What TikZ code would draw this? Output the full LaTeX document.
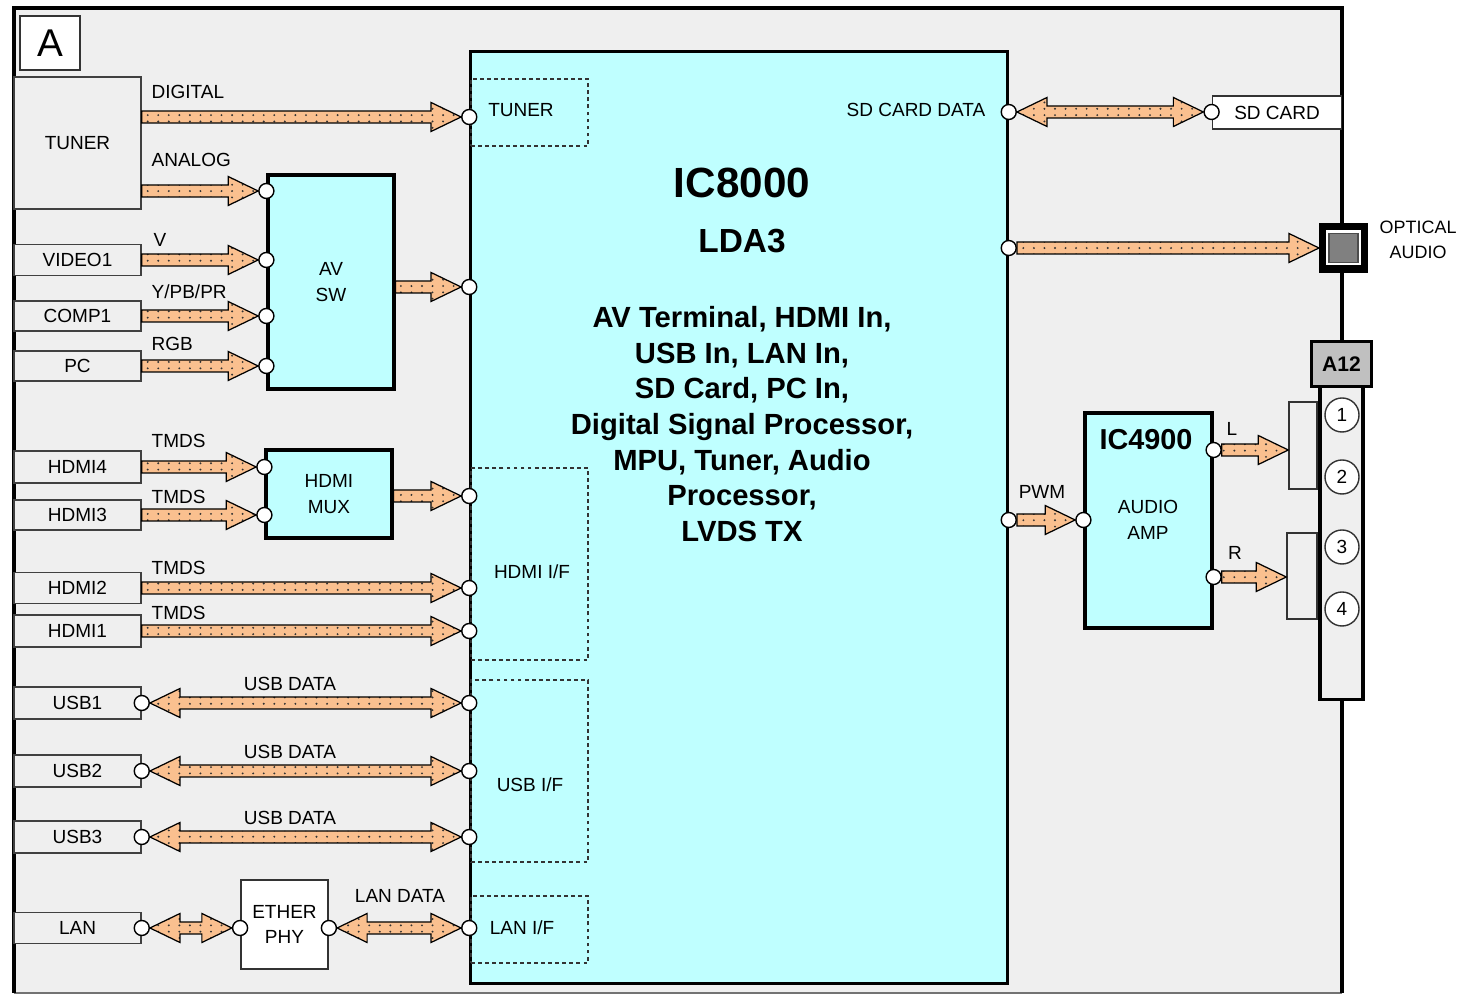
\documentclass[tikz,border=0pt]{standalone}
\usepackage{fontspec}
\setmainfont{Liberation Sans}
\usetikzlibrary{positioning, calc, patterns.meta}

\definecolor{bggray}{RGB}{239,239,239}
\definecolor{chipcyan}{RGB}{191,255,255}
\definecolor{peach}{RGB}{250,192,143}
\definecolor{jackgray}{RGB}{192,192,192}

% fat arrow sizes
\newcommand{\shaftw}{0.06cm}
\newcommand{\headw}{0.145cm}
\newcommand{\headl}{0.30cm}

\tikzdeclarepattern{
  name=arrdots,
  type=uncolored,
  bounding box={(-0.5pt,-0.5pt) and (0.5pt,0.5pt)},
  tile size={(3pt,1.8pt)},
  code={\fill (0pt,0pt) circle [radius=0.3pt];}
}

\begin{document}
\begin{tikzpicture}[
    x=0.01cm, y=-0.01cm,
    font=\fontsize{5.4}{7.3}\selectfont,
    inbox/.style={rectangle, draw=black!75, line width=0.4pt, fill=bggray,
                  minimum width=1.27cm, inner sep=0pt},
    chip/.style={rectangle, draw=black, line width=0.9pt, fill=chipcyan,
                 align=center, inner sep=0pt},
    plain/.style={rectangle, draw=black!80, line width=0.5pt, fill=white,
                  align=center, inner sep=0pt},
    ifbox/.style={rectangle, draw=black!80, line width=0.4pt,
                  dash pattern=on 1.1pt off 0.9pt, inner sep=0pt},
    jdot/.style={circle, draw=black, line width=0.4pt, fill=white,
                 minimum size=0.15cm, inner sep=0pt},
    lbl/.style={inner sep=0pt},
    fatbase/.style={draw=black, line width=0.35pt, preaction={fill=peach},
                    pattern=arrdots, pattern color=black!80},
    fatr/.style={fatbase, to path={let \p1=(\tikztostart), \p2=(\tikztotarget) in
        (\x1,\y1+\shaftw) -- (\x2-\headl,\y1+\shaftw) -- (\x2-\headl,\y1+\headw)
        -- (\x2,\y1) -- (\x2-\headl,\y1-\headw) -- (\x2-\headl,\y1-\shaftw)
        -- (\x1,\y1-\shaftw) -- cycle}},
    fatlr/.style={fatbase, to path={let \p1=(\tikztostart), \p2=(\tikztotarget) in
        (\x1,\y1) -- (\x1+\headl,\y1+\headw) -- (\x1+\headl,\y1+\shaftw)
        -- (\x2-\headl,\y1+\shaftw) -- (\x2-\headl,\y1+\headw) -- (\x2,\y1)
        -- (\x2-\headl,\y1-\headw) -- (\x2-\headl,\y1-\shaftw)
        -- (\x1+\headl,\y1-\shaftw) -- (\x1+\headl,\y1-\headw) -- cycle}}
  ]
  \fill[white] (0,0) rectangle (1463,995);
  \useasboundingbox (0,0) rectangle (1463,995);

  % board frame
  \fill[bggray] (14,8) rectangle (1342,993);
  \draw[black!55, line width=0.5pt] (14,993) -- (1342,993);
  \draw[line width=1.1pt] (14,993) -- (14,8) -- (1342,8) -- (1342,993);
  \node[plain, minimum width=0.60cm, minimum height=0.54cm,
        font=\fontsize{11}{12}\selectfont] (tag) at (50,43) {A};

  % inputs
  \node[inbox, minimum height=1.32cm] (tuner) at (77.5,143) {TUNER};
  \node[inbox, minimum height=0.31cm] (video) at (77.5,260) {VIDEO1};
  \node[inbox, minimum height=0.30cm] (comp)  at (77.5,316) {COMP1};
  \node[inbox, minimum height=0.30cm] (pc)    at (77.5,366) {PC};
  \node[inbox, minimum height=0.32cm] (hdmi4) at (77.5,467) {HDMI4};
  \node[inbox, minimum height=0.30cm] (hdmi3) at (77.5,515) {HDMI3};
  \node[inbox, minimum height=0.31cm] (hdmi2) at (77.5,588) {HDMI2};
  \node[inbox, minimum height=0.32cm] (hdmi1) at (77.5,631) {HDMI1};
  \node[inbox, minimum height=0.32cm] (usb1)  at (77.5,703) {USB1};
  \node[inbox, minimum height=0.32cm] (usb2)  at (77.5,771) {USB2};
  \node[inbox, minimum height=0.32cm] (usb3)  at (77.5,837) {USB3};
  \node[inbox, minimum height=0.31cm] (lan)   at (77.5,928) {LAN};

  % blocks
  \node[chip, minimum width=1.26cm, minimum height=2.14cm] (avsw) at (331,282) {AV\\SW};
  \node[chip, minimum width=1.26cm, minimum height=0.88cm] (hdmimux) at (329,494) {HDMI\\MUX};
  \node[plain, minimum width=0.87cm, minimum height=0.89cm] (ether) at (284.5,924.5) {ETHER\\PHY};
  \node[chip, minimum width=5.36cm, minimum height=9.31cm] (ic8000) at (739,517.5) {};
  \node[chip, minimum width=1.27cm, minimum height=2.15cm] (ic4900) at (1148.5,520.5) {};

  % interface areas inside IC8000
  \node[ifbox, minimum width=1.17cm, minimum height=0.67cm] (tunerif) at (529.5,112.5) {};
  \node[ifbox, minimum width=1.17cm, minimum height=1.92cm] (hdmiif) at (529.5,564) {};
  \node[ifbox, minimum width=1.17cm, minimum height=1.82cm] (usbif) at (529.5,771) {};
  \node[ifbox, minimum width=1.17cm, minimum height=0.67cm] (lanif) at (529.5,929.5) {};
  \node[lbl] (tuneriftxt) at (521,110) {TUNER};
  \node[lbl] (hdmiiftxt) at (532,572) {HDMI I/F};
  \node[lbl] (usbiftxt) at (530,785) {USB I/F};
  \node[lbl] (laniftxt) at (522,928) {LAN I/F};

  \node[font=\bfseries\fontsize{12}{14}\selectfont] (ictitle) at (742,183) {IC8000};
  \node[font=\bfseries\fontsize{9.5}{11}\selectfont] (icsub) at (742,241) {LDA3};
  \node[font=\bfseries\fontsize{8.3}{10.15}\selectfont, align=center, inner sep=0pt]
    (icdesc) at (742,424) {AV Terminal, HDMI In,\\USB In, LAN In,\\SD Card, PC In,\\
    Digital Signal Processor,\\MPU, Tuner, Audio\\Processor,\\LVDS TX};

  \node[font=\bfseries\fontsize{8.2}{10}\selectfont] (amptitle) at (1146,440) {IC4900};
  \node[align=center] (amptxt) at (1148,520) {AUDIO\\AMP};

  % outputs
  \node[plain, minimum width=1.29cm, minimum height=0.33cm] (sdcard) at (1277,112.5) {SD CARD};
  \node[rectangle, draw=black, line width=2pt, fill=white, minimum size=0.42cm,
        inner sep=0pt] (optical) at (1343.5,248) {};
  \node[rectangle, draw=black!70, line width=0.4pt, fill=black!50, minimum size=0.29cm,
        inner sep=0pt] (optcore) at (optical.center) {};
  \node[align=center, inner sep=0pt, font=\fontsize{5.1}{7.1}\selectfont,
        right=0.11cm of optical, yshift=0.08cm] (optlbl) {OPTICAL\\AUDIO};

  \node[rectangle, draw=black!80, line width=0.4pt, minimum width=0.28cm,
        minimum height=0.87cm, inner sep=0pt] (brl) at (1303,445.5) {};
  \node[rectangle, draw=black!80, line width=0.4pt, minimum width=0.30cm,
        minimum height=0.86cm, inner sep=0pt] (brr) at (1302,576) {};
  \node[rectangle, draw=black, line width=0.9pt, fill=jackgray, minimum width=0.60cm,
        minimum height=0.45cm, inner sep=0pt,
        font=\bfseries\fontsize{6}{7}\selectfont] (a12) at (1341.5,364) {A12};
  \node[rectangle, draw=black, line width=0.9pt, fill=bggray, minimum width=0.43cm,
        minimum height=3.13cm, inner sep=0pt, below=-1pt of a12] (jack) {};
  \node[circle, draw=black!80, line width=0.4pt, fill=white, minimum size=0.34cm,
        inner sep=0pt] (j1) at (1342,415) {1};
  \node[circle, draw=black!80, line width=0.4pt, fill=white, minimum size=0.34cm,
        inner sep=0pt] (j2) at (1342,477) {2};
  \node[circle, draw=black!80, line width=0.4pt, fill=white, minimum size=0.34cm,
        inner sep=0pt] (j3) at (1342,547) {3};
  \node[circle, draw=black!80, line width=0.4pt, fill=white, minimum size=0.34cm,
        inner sep=0pt] (j4) at (1342,609) {4};

  % terminals
  \node[jdot] (sw-an)  at (avsw.west |- 0,191) {};
  \node[jdot] (sw-v)   at (avsw.west |- video) {};
  \node[jdot] (sw-y)   at (avsw.west |- comp) {};
  \node[jdot] (sw-rgb) at (avsw.west |- pc) {};
  \node[jdot] (mux-4)  at (hdmimux.west |- hdmi4) {};
  \node[jdot] (mux-3)  at (hdmimux.west |- hdmi3) {};
  \node[jdot] (ic-dig) at (ic8000.west |- 0,117) {};
  \node[jdot] (ic-av)  at (ic8000.west |- 0,287) {};
  \node[jdot] (ic-mux) at (ic8000.west |- 0,496) {};
  \node[jdot] (ic-h2)  at (ic8000.west |- hdmi2) {};
  \node[jdot] (ic-h1)  at (ic8000.west |- hdmi1) {};
  \node[jdot] (ic-u1)  at (ic8000.west |- usb1) {};
  \node[jdot] (ic-u2)  at (ic8000.west |- usb2) {};
  \node[jdot] (ic-u3)  at (ic8000.west |- usb3) {};
  \node[jdot] (ic-lan) at (ic8000.west |- lan) {};
  \node[jdot] (u1-p)   at (usb1.east) {};
  \node[jdot] (u2-p)   at (usb2.east) {};
  \node[jdot] (u3-p)   at (usb3.east) {};
  \node[jdot] (lan-p)  at (lan.east) {};
  \node[jdot] (eth-l)  at (ether.west |- lan) {};
  \node[jdot] (eth-r)  at (ether.east |- lan) {};
  \node[jdot] (ic-sd)  at (ic8000.east |- 0,112) {};
  \node[jdot] (sd-p)   at (sdcard.west |- ic-sd) {};
  \node[jdot] (ic-opt) at (ic8000.east |- optical) {};
  \node[jdot] (ic-pwm) at (ic8000.east |- 0,520) {};
  \node[jdot] (amp-in) at (ic4900.west |- ic-pwm) {};
  \node[jdot] (amp-l)  at (ic4900.east |- 0,450) {};
  \node[jdot] (amp-r)  at (ic4900.east |- 0,577) {};

  % signal arrows
  \path[fatr] (tuner.east |- ic-dig) to (ic-dig.west);
  \path[fatr] (tuner.east |- sw-an) to (sw-an.west);
  \path[fatr] (video.east) to (sw-v.west);
  \path[fatr] (comp.east) to (sw-y.west);
  \path[fatr] (pc.east) to (sw-rgb.west);
  \path[fatr] (avsw.east |- ic-av) to (ic-av.west);
  \path[fatr] (hdmi4.east) to (mux-4.west);
  \path[fatr] (hdmi3.east) to (mux-3.west);
  \path[fatr] (hdmimux.east |- ic-mux) to (ic-mux.west);
  \path[fatr] (hdmi2.east) to (ic-h2.west);
  \path[fatr] (hdmi1.east) to (ic-h1.west);
  \path[fatlr] (u1-p.east) to (ic-u1.west);
  \path[fatlr] (u2-p.east) to (ic-u2.west);
  \path[fatlr] (u3-p.east) to (ic-u3.west);
  \path[fatlr] (lan-p.east) to (eth-l.west);
  \path[fatlr] (eth-r.east) to (ic-lan.west);
  \path[fatlr] (ic-sd.east) to (sd-p.west);
  \path[fatr] (ic-opt.east) to (optical.west);
  \path[fatr] (ic-pwm.east) to (amp-in.west);
  \path[fatr] (amp-l.east) to (brl.west |- amp-l);
  \path[fatr] (amp-r.east) to (brr.west |- amp-r);

  % signal names
  \node[lbl, anchor=west] (l-dig) at (151,92) {DIGITAL};
  \node[lbl, anchor=west] (l-an)  at (151,160) {ANALOG};
  \node[lbl, anchor=west] (l-v)   at (153,240) {V};
  \node[lbl, anchor=west] (l-y)   at (151,292) {Y/PB/PR};
  \node[lbl, anchor=west] (l-rgb) at (151,344) {RGB};
  \node[lbl, anchor=west] (l-t4)  at (151,441) {TMDS};
  \node[lbl, anchor=west] (l-t3)  at (151,497) {TMDS};
  \node[lbl, anchor=west] (l-t2)  at (151,568) {TMDS};
  \node[lbl, anchor=west] (l-t1)  at (151,613) {TMDS};
  \node[lbl] (l-u1)  at (290,684) {USB DATA};
  \node[lbl] (l-u2)  at (290,752) {USB DATA};
  \node[lbl] (l-u3)  at (290,818) {USB DATA};
  \node[lbl] (l-lan) at (400,896) {LAN DATA};
  \node[lbl, anchor=east] (l-sd) at (986,110) {SD CARD DATA};
  \node[lbl] (l-pwm) at (1042,492) {PWM};
  \node[lbl] (l-l)   at (1232,429) {L};
  \node[lbl] (l-r)   at (1235,553) {R};
\end{tikzpicture}
\end{document}
